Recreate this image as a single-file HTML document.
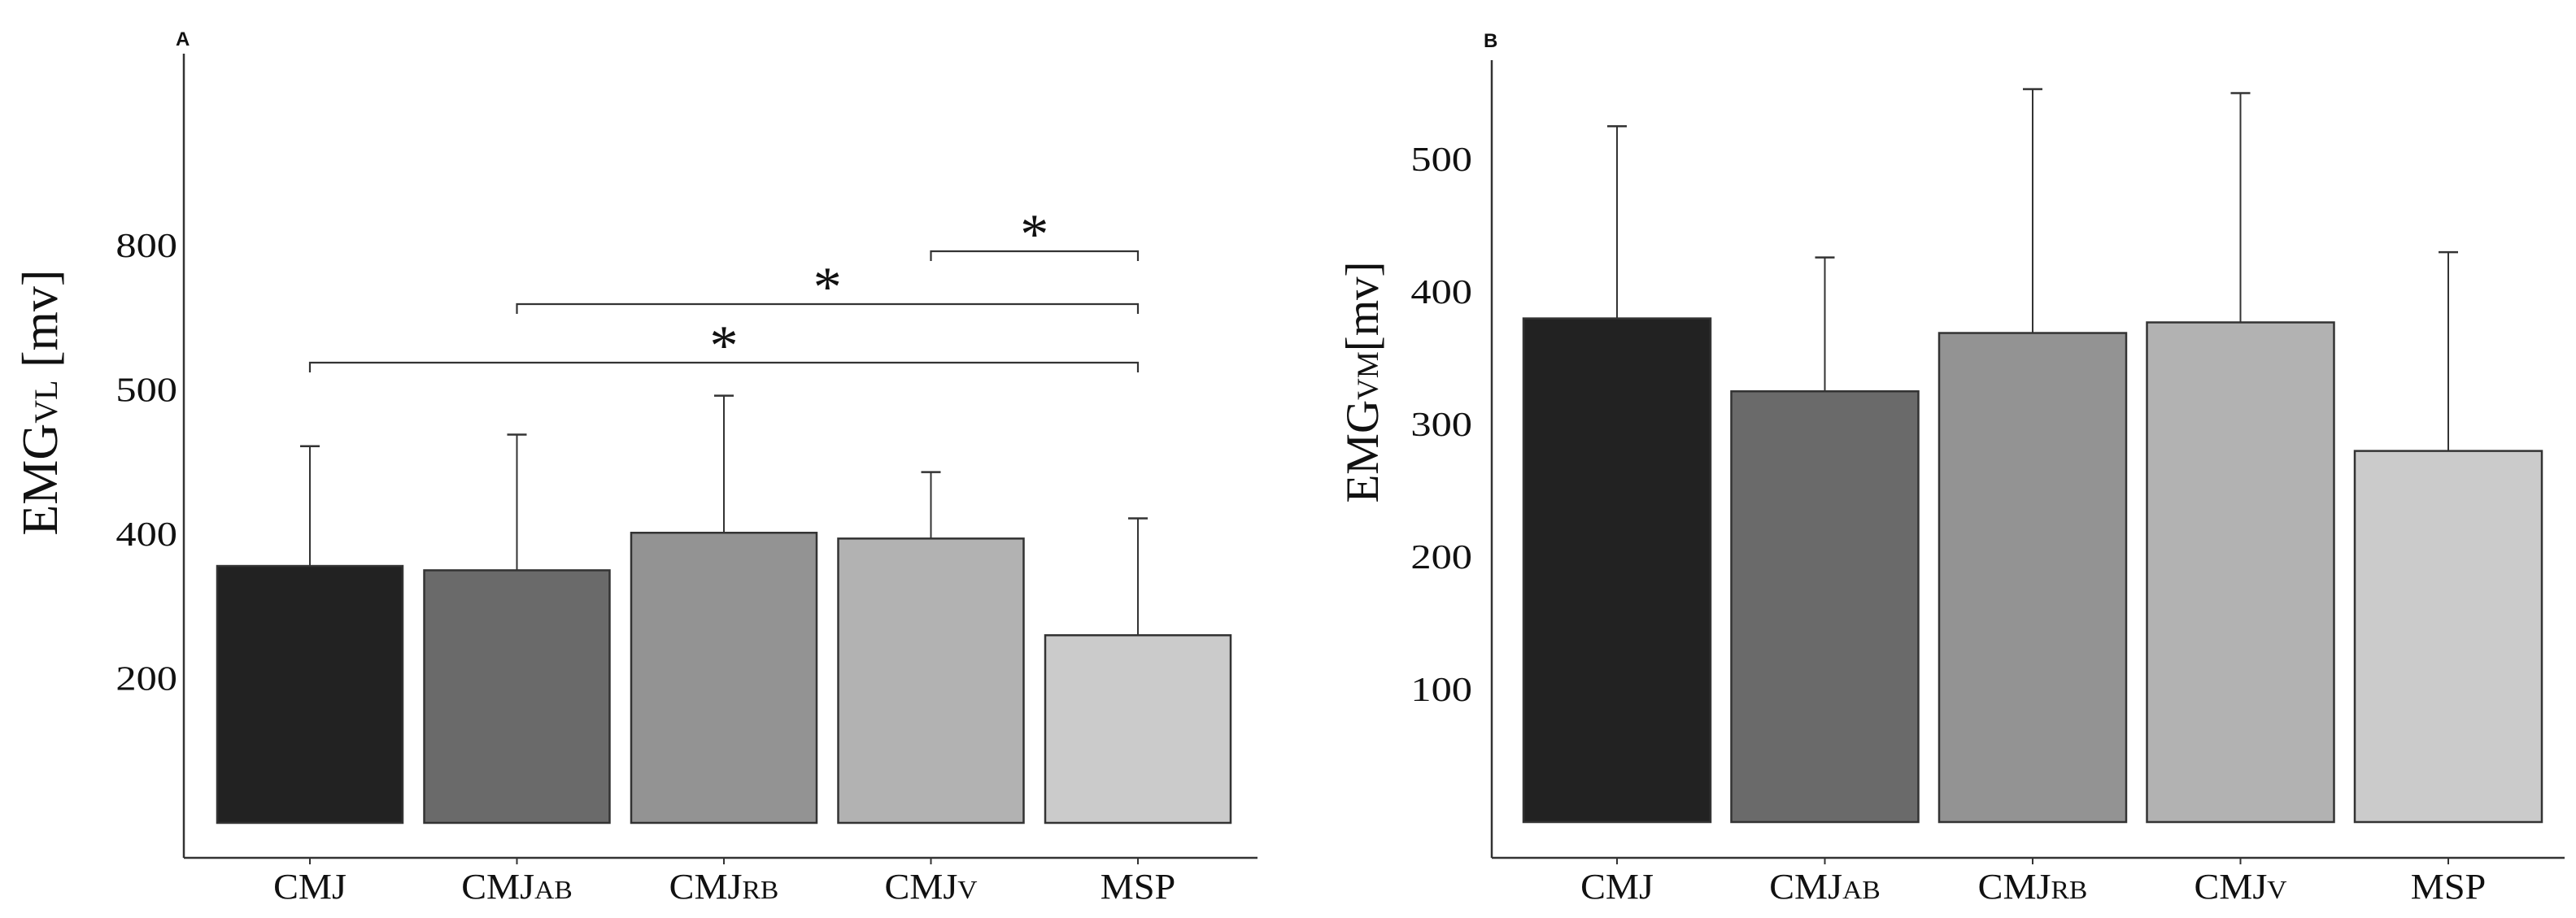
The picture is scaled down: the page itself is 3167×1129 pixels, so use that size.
<!DOCTYPE html>
<html><head><meta charset="utf-8"><style>
html,body{margin:0;padding:0;background:#fff;}
svg{display:block;}
text{font-family:"Liberation Serif",serif;fill:#111;}
</style></head><body>
<svg id="c" width="3167" height="1129" viewBox="0 0 3167 1129" xmlns="http://www.w3.org/2000/svg"></svg>
<script>
const categories = ["CMJ","CMJ","CMJ","CMJ","MSP"];
const categorySubs = ["","AB","RB","V",""];
// Panel A (axis units; tick labels printed as in the original)
const aMeans = [178,175,201,197,130];
const aErrTops = [261,269,296,243,211];
const aTickValues = [100,200,300,400];
const aTickLabels = ["200","400","500","800"];
const aSig = [[0,4,446],[1,4,374],[3,4,309]];
// Panel B
const bMeans = [380,325,369,377,280];
const bErrTops = [525,426,553,550,430];
const bTickValues = [100,200,300,400,500];
const bTickLabels = ["100","200","300","400","500"];
const fills = ["#222222","#6a6a6a","#939393","#b2b2b2","#cbcbcb"];

const svg = document.getElementById('c');
const NS = "http://www.w3.org/2000/svg";
function mk(tag, attrs, parent){const e=document.createElementNS(NS,tag);for(const k in attrs)e.setAttribute(k,attrs[k]);(parent||svg).appendChild(e);return e;}

function panel(p){
  const g = mk('g',{});
  
  
  const y = v => p.base - v*p.pxPer;
  const ax = mk('line',{x1:p.axisX,y1:p.axisTop,x2:p.axisX,y2:1055,stroke:'#333','stroke-width':2.5},g);
   
  const xx = mk('line',{x1:p.axisX,y1:1055,x2:p.axisEnd,y2:1055,stroke:'#333','stroke-width':2.5},g);
   
  const lt = mk('text',{x:p.axisX-10,y:p.letterY,'font-size':24,'font-weight':'bold',style:'font-family:"Liberation Sans",sans-serif'},g);
  lt.textContent = p.letter;
   
  p.tickValues.forEach((v,i)=>{
    const t = mk('text',{transform:`translate(${p.axisX-p.tickGap},${y(v)+14}) scale(1.2,1)`,'font-size':42,'text-anchor':'end'},g);
    t.textContent = p.tickLabels[i];
     
  });
  const ttl = mk('text',{transform:`translate(${p.titleX},${p.titleY}) rotate(-90)`,'font-size':p.titleSize,'text-anchor':'middle'},g);
  ttl.innerHTML = `EMG<tspan font-size="${Math.round(p.titleSize*0.65)}">${p.sub}</tspan>${p.gap}[mv]`;
   
  const bw = p.barW, step = p.step;
  p.means.forEach((m,i)=>{
    const x0 = p.firstX + i*step, cx = x0 + bw/2;
    const el = mk('line',{x1:cx,y1:y(m),x2:cx,y2:y(p.errs[i]),stroke:'#333','stroke-width':2},g);
     
    const cap = mk('line',{x1:cx-12,y1:y(p.errs[i]),x2:cx+12,y2:y(p.errs[i]),stroke:'#333','stroke-width':2.5},g);
     
    const r = mk('rect',{x:x0,y:y(m),width:bw,height:p.base-y(m),fill:fills[i],stroke:'#333','stroke-width':2.5},g);
    
    
    const tk = mk('line',{x1:cx,y1:1055,x2:cx,y2:1063,stroke:'#333','stroke-width':2},g);
     
    const lb = mk('text',{transform:`translate(${cx},1105) scale(1.05,1)`,'font-size':44,'text-anchor':'middle'},g);
    lb.innerHTML = categories[i] + (categorySubs[i]?`<tspan font-size="32">${categorySubs[i]}</tspan>`:'');
     
  });
  (p.sig||[]).forEach(s=>{
    const xa = p.firstX + s[0]*step + bw/2, xb = p.firstX + s[1]*step + bw/2, yy = s[2];
    const br = mk('path',{d:`M${xa},${yy+12}V${yy}H${xb}V${yy+12}`,fill:'none',stroke:'#333','stroke-width':2.2},g);
     
    const st = mk('text',{x:(xa+xb)/2,y:yy+2,'font-size':70,'text-anchor':'middle'},g);
    st.textContent = '*';
     
  });
}
panel({name:'panel-a',letter:'A',letterY:56,axisX:226,axisTop:66,axisEnd:1546,base:1012,pxPer:1.775,
  tickValues:aTickValues,tickLabels:aTickLabels,means:aMeans,errs:aErrTops,firstX:267,barW:228,step:254.5,
  titleX:70,titleY:495,titleSize:62,tickGap:8,sub:'VL',gap:' ',sig:aSig});
panel({name:'panel-b',letter:'B',letterY:58,axisX:1834,axisTop:74,axisEnd:3153,base:1011,pxPer:1.63,
  tickValues:bTickValues,tickLabels:bTickLabels,means:bMeans,errs:bErrTops,firstX:1873,barW:230,step:255.5,
  titleX:1694,titleY:470,titleSize:57,tickGap:24,sub:'VM',gap:'',sig:[]});
</script>
</body></html>
